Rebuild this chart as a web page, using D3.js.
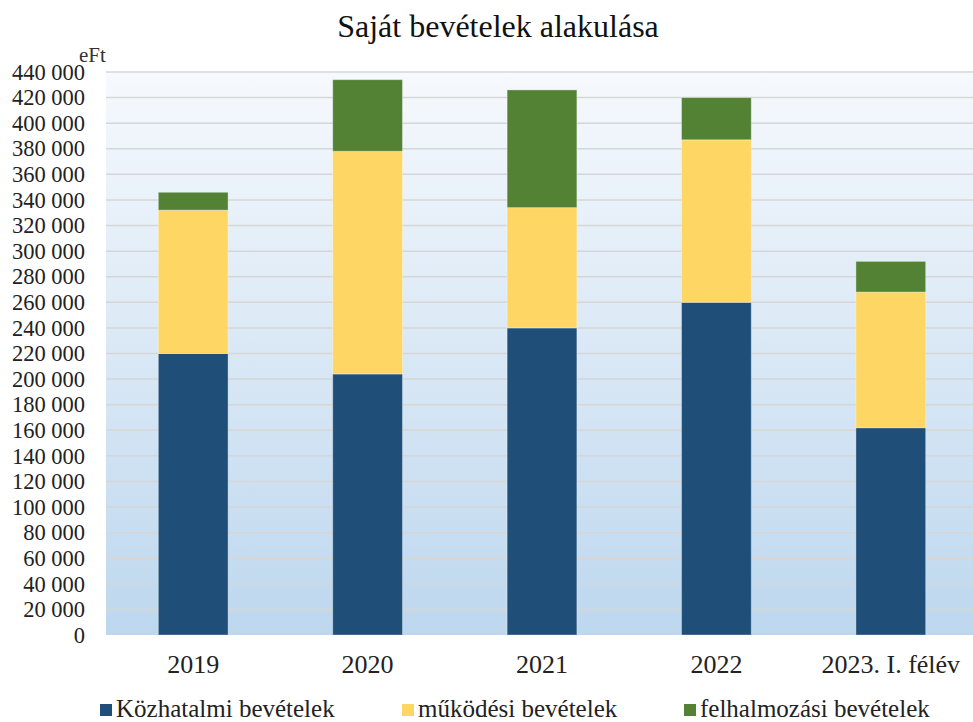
<!DOCTYPE html>
<html>
<head>
<meta charset="utf-8">
<script src="https://cdn.jsdelivr.net/npm/d3@7"></script>
<style>
  html, body { margin: 0; padding: 0; background: #fff; }
  svg text { font-family: "Liberation Serif", "Times New Roman", "DejaVu Serif", serif !important; }
</style>
</head>
<body>
<div id="chart"></div>
<script>
const categories = ['2019', '2020', '2021', '2022', '2023. I. félév'];
const seriesNames = ['Közhatalmi bevételek', 'működési bevételek', 'felhalmozási bevételek'];
const kozhatalmi = [220000, 204000, 240000, 260000, 162000];
const mukodesi = [112000, 174000, 94000, 127000, 106000];
const felhalmozasi = [14000, 56000, 92000, 33000, 24000];
const yTicks = d3.range(0, 440001, 20000);
const colors = ['#1f4e79', '#fdd663', '#548235'];

const width = 973, height = 722;
const margin = { top: 72, right: -5, bottom: 87, left: 106 };

const rows = categories.map((c, i) => ({
  cat: c,
  [seriesNames[0]]: kozhatalmi[i],
  [seriesNames[1]]: mukodesi[i],
  [seriesNames[2]]: felhalmozasi[i]
}));

const svg = d3.select('#chart').append('svg')
  .attr('width', width)
  .attr('height', height)
  .style('display', 'block');

const x = d3.scaleBand()
  .domain(categories)
  .range([margin.left, width - margin.right])
  .paddingInner(0.6)
  .paddingOuter(0.3);

const y = d3.scaleLinear()
  .domain([0, 440000])
  .range([height - margin.bottom, margin.top]);

// plot background gradient
const grad = svg.append('defs').append('linearGradient')
  .attr('id', 'bg')
  .attr('x1', 0).attr('y1', 0).attr('x2', 0).attr('y2', 1);
grad.append('stop').attr('offset', '0%').attr('stop-color', '#f6f9fd');
grad.append('stop').attr('offset', '100%').attr('stop-color', '#bdd7ee');

svg.append('rect')
  .attr('x', margin.left)
  .attr('y', y(440000))
  .attr('width', width - margin.left)
  .attr('height', y(0) - y(440000))
  .attr('fill', 'url(#bg)');

// gridlines
svg.append('g')
  .selectAll('line')
  .data(yTicks.filter(d => d > 0))
  .join('line')
  .attr('x1', margin.left)
  .attr('x2', width)
  .attr('y1', d => y(d))
  .attr('y2', d => y(d))
  .attr('stroke', '#d6d6d6')
  .attr('stroke-width', 1.5);

// y axis
const fmt = d => d3.format(',')(d).replace(/,/g, ' ');
const yAxis = svg.append('g')
  .attr('transform', `translate(${margin.left},0)`)
  .call(d3.axisLeft(y).tickValues(yTicks).tickFormat(fmt).tickSize(0).tickPadding(21));
yAxis.select('.domain').remove();
yAxis.selectAll('text')
  .attr('font-size', 22.5)
  .attr('fill', '#222');

svg.append('text')
  .attr('x', 79)
  .attr('y', 62)
  .attr('font-size', 21)
  .attr('fill', '#333')
  .text('eFt');

// stacked bars
const stack = d3.stack().keys(seriesNames)(rows);

svg.append('g')
  .selectAll('g')
  .data(stack)
  .join('g')
  .attr('fill', (d, i) => colors[i])
  .selectAll('rect')
  .data(d => d)
  .join('rect')
  .attr('x', d => x(d.data.cat))
  .attr('y', d => y(d[1]))
  .attr('width', x.bandwidth())
  .attr('height', d => y(d[0]) - y(d[1]))
  .attr('stroke', 'rgba(255,255,255,0.35)')
  .attr('stroke-width', 1);

// x axis
const xAxis = svg.append('g')
  .attr('transform', `translate(0,${y(0)})`)
  .call(d3.axisBottom(x).tickSize(0).tickPadding(20));
xAxis.select('.domain').remove();
xAxis.selectAll('text')
  .attr('font-size', 26)
  .attr('fill', '#222');

// title
svg.append('text')
  .attr('x', 498)
  .attr('y', 37)
  .attr('text-anchor', 'middle')
  .attr('font-size', 32)
  .attr('fill', '#111')
  .text('Saját bevételek alakulása');

// legend
const legendX = [100, 402, 684];
const legend = svg.append('g')
  .selectAll('g')
  .data(seriesNames)
  .join('g')
  .attr('transform', (d, i) => `translate(${legendX[i]},704)`);
legend.append('rect')
  .attr('width', 12)
  .attr('height', 12)
  .attr('y', 0)
  .attr('fill', (d, i) => colors[i]);
legend.append('text')
  .attr('x', 16)
  .attr('y', 13)
  .attr('font-size', 25)
  .attr('fill', '#222')
  .text(d => d);
</script>
</body>
</html>
